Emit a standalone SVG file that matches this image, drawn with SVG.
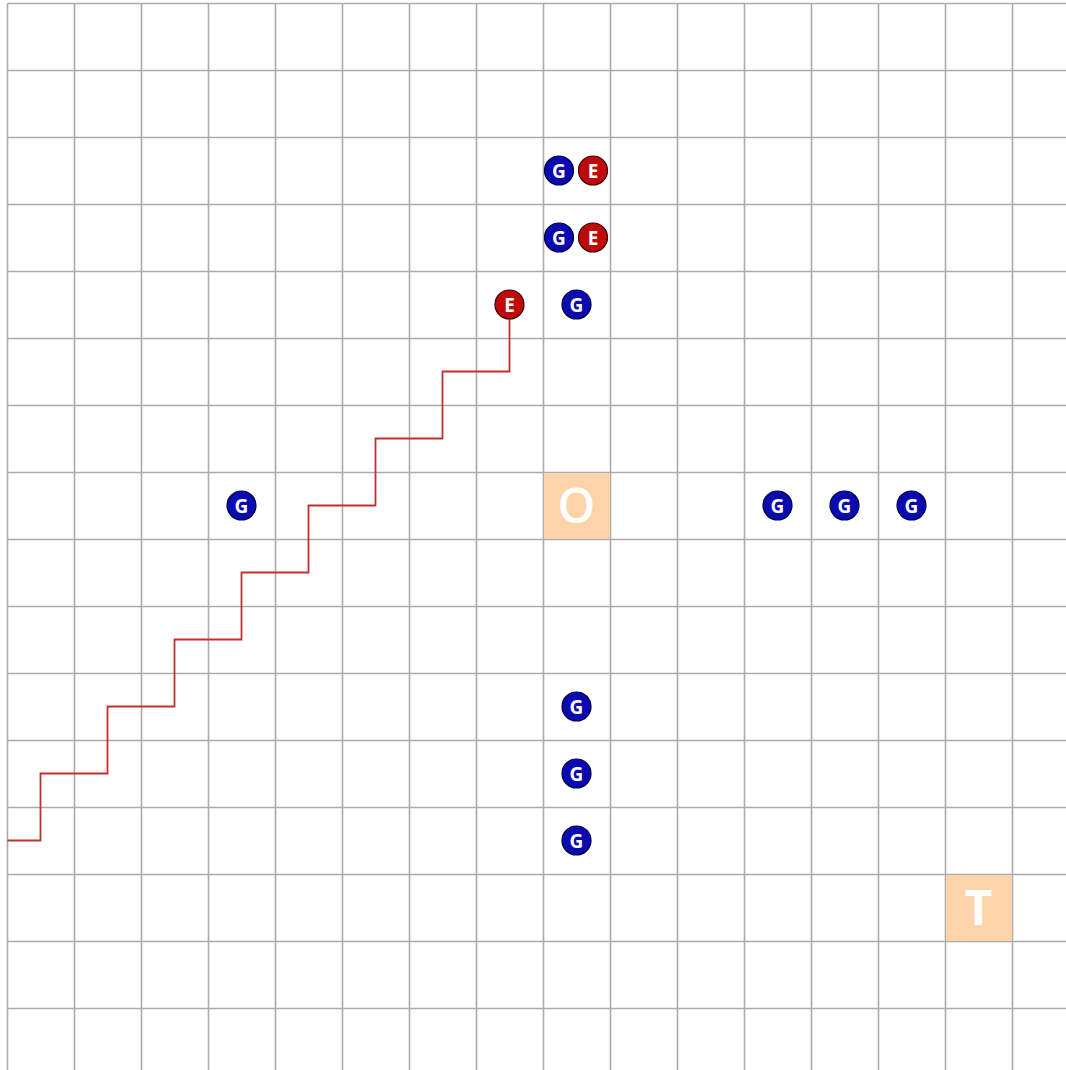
<svg xmlns="http://www.w3.org/2000/svg" width="1066" height="1070" viewBox="0 0 1066 1070">
<defs>
<style>
.grid line{stroke:#ababab;stroke-width:1.6}
.box{fill:#fdd3aa}
.big{fill:#ffffff;font-family:"Open Sans","DejaVu Sans",sans-serif;font-weight:600;font-size:48px;text-anchor:middle}
.bigb{font-weight:bold}
.g circle{fill:#0a0ab0;stroke:#00004a;stroke-width:1.2}
.e circle{fill:#c00a0a;stroke:#3a0000;stroke-width:1.2}
.lbl{fill:#ffffff;font-family:"Open Sans","DejaVu Sans",sans-serif;font-weight:bold;font-size:19px;text-anchor:middle}
.path{fill:none;stroke:#c03030;stroke-width:1.8}
</style>
</defs>
<rect width="1066" height="1070" fill="#ffffff"/>
<g id="grid" class="grid">
<line x1="7.5" y1="3.5" x2="1066" y2="3.5"/>
<line x1="7.5" y1="70.5" x2="1066" y2="70.5"/>
<line x1="7.5" y1="137.5" x2="1066" y2="137.5"/>
<line x1="7.5" y1="204.5" x2="1066" y2="204.5"/>
<line x1="7.5" y1="271.5" x2="1066" y2="271.5"/>
<line x1="7.5" y1="338.5" x2="1066" y2="338.5"/>
<line x1="7.5" y1="405.5" x2="1066" y2="405.5"/>
<line x1="7.5" y1="472.5" x2="1066" y2="472.5"/>
<line x1="7.5" y1="539.5" x2="1066" y2="539.5"/>
<line x1="7.5" y1="606.5" x2="1066" y2="606.5"/>
<line x1="7.5" y1="673.5" x2="1066" y2="673.5"/>
<line x1="7.5" y1="740.5" x2="1066" y2="740.5"/>
<line x1="7.5" y1="807.5" x2="1066" y2="807.5"/>
<line x1="7.5" y1="874.5" x2="1066" y2="874.5"/>
<line x1="7.5" y1="941.5" x2="1066" y2="941.5"/>
<line x1="7.5" y1="1008.5" x2="1066" y2="1008.5"/>
<line x1="7.5" y1="3.5" x2="7.5" y2="1070"/>
<line x1="74.5" y1="3.5" x2="74.5" y2="1070"/>
<line x1="141.5" y1="3.5" x2="141.5" y2="1070"/>
<line x1="208.5" y1="3.5" x2="208.5" y2="1070"/>
<line x1="275.5" y1="3.5" x2="275.5" y2="1070"/>
<line x1="342.5" y1="3.5" x2="342.5" y2="1070"/>
<line x1="409.5" y1="3.5" x2="409.5" y2="1070"/>
<line x1="476.5" y1="3.5" x2="476.5" y2="1070"/>
<line x1="543.5" y1="3.5" x2="543.5" y2="1070"/>
<line x1="610.5" y1="3.5" x2="610.5" y2="1070"/>
<line x1="677.5" y1="3.5" x2="677.5" y2="1070"/>
<line x1="744.5" y1="3.5" x2="744.5" y2="1070"/>
<line x1="811.5" y1="3.5" x2="811.5" y2="1070"/>
<line x1="878.5" y1="3.5" x2="878.5" y2="1070"/>
<line x1="945.5" y1="3.5" x2="945.5" y2="1070"/>
<line x1="1012.5" y1="3.5" x2="1012.5" y2="1070"/>
</g>
<g id="origin"><rect class="box" x="544" y="473" width="66" height="66"/><text class="big" x="576.5" y="523">O</text></g>
<g id="target"><rect class="box" x="946" y="875" width="66" height="66"/><text class="big bigb" x="978.5" y="925">T</text></g>
<g id="connectors">
<path class="path" d="M7.5 840.5H40.5V773.5H107.5V706.5H174.5V639.5H241.5V572.5H308.5V505.5H375.5V438.5H442.5V371.5H509.5V304.5"/>
</g>
<g id="g1" class="g"><circle cx="559" cy="170.5" r="14.5"/><text class="lbl" x="559" y="177.5">G</text></g>
<g id="e1" class="e"><circle cx="593" cy="170.5" r="14.5"/><text class="lbl" x="593" y="177.5">E</text></g>
<g id="g2" class="g"><circle cx="559" cy="237.5" r="14.5"/><text class="lbl" x="559" y="244.5">G</text></g>
<g id="e2" class="e"><circle cx="593" cy="237.5" r="14.5"/><text class="lbl" x="593" y="244.5">E</text></g>
<g id="e3" class="e"><circle cx="509.5" cy="304.5" r="14.5"/><text class="lbl" x="509.5" y="311.5">E</text></g>
<g id="g3" class="g"><circle cx="576.5" cy="304.5" r="14.5"/><text class="lbl" x="576.5" y="311.5">G</text></g>
<g id="g4" class="g"><circle cx="241.5" cy="505.5" r="14.5"/><text class="lbl" x="241.5" y="512.5">G</text></g>
<g id="g5" class="g"><circle cx="777.5" cy="505.5" r="14.5"/><text class="lbl" x="777.5" y="512.5">G</text></g>
<g id="g6" class="g"><circle cx="844.5" cy="505.5" r="14.5"/><text class="lbl" x="844.5" y="512.5">G</text></g>
<g id="g7" class="g"><circle cx="911.5" cy="505.5" r="14.5"/><text class="lbl" x="911.5" y="512.5">G</text></g>
<g id="g8" class="g"><circle cx="576.5" cy="706.5" r="14.5"/><text class="lbl" x="576.5" y="713.5">G</text></g>
<g id="g9" class="g"><circle cx="576.5" cy="773.5" r="14.5"/><text class="lbl" x="576.5" y="780.5">G</text></g>
<g id="g10" class="g"><circle cx="576.5" cy="840.5" r="14.5"/><text class="lbl" x="576.5" y="847.5">G</text></g>
</svg>
